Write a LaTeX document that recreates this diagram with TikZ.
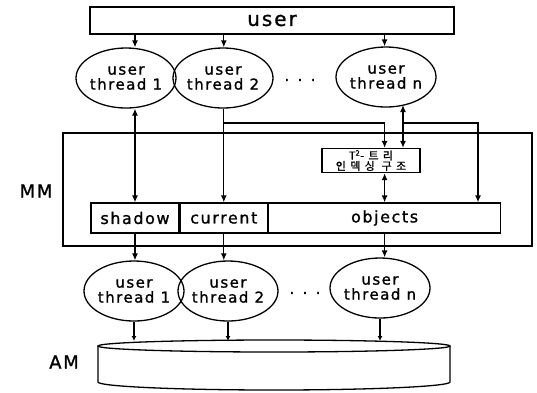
\documentclass[tikz,border=0pt]{standalone}
\usepackage{fontspec}
\setmainfont{DejaVu Sans}[LetterSpace=10, FakeBold=1.2]
\newfontfamily\krfont{Noto Sans CJK KR}[LetterSpace=40, FakeBold=1.2]
\usetikzlibrary{shapes.geometric, arrows.meta}

\begin{document}
\begin{tikzpicture}[x=1bp, y=-1bp, line width=1.3bp,
	>={Latex[length=7bp, width=6bp]},
	box/.style={draw, inner sep=0pt, minimum height=30bp, font=\fontsize{16}{16}\selectfont},
	tlabel/.style={align=center, inner sep=0pt, font=\fontsize{15}{15}\selectfont},
	uthread/.style={ellipse, draw, inner sep=0pt, minimum width=100bp, minimum height=60bp,
		label={[tlabel]center:user\\thread #1}},
	side/.style={font=\fontsize{18}{18}\selectfont}]
	\useasboundingbox (0,0) rectangle (537,392);

	% user and the user threads
	\node[draw, minimum width=364bp, minimum height=27bp, font=\fontsize{20}{20}\selectfont] (user) at (272,20.5) {user};
	\node[uthread=1] (ut1) at (126,78) {};
	\node[uthread=2] (ut2) at (223,78) {};
	\node[uthread=n] (utn) at (386,77) {};
	\node[tlabel] (dots1) at (300,80) {. . .};

	% MM
	\node[draw, minimum width=469bp, minimum height=113bp] (mm) at (297.5,189.5) {};
	\node[side] (mml) at (36,191) {MM};
	\node[box, minimum width=88bp] (shadow) at (135,218) {shadow};
	\node[box, minimum width=87bp, anchor=west] (current) at (shadow.east) {current};
	\node[box, minimum width=232bp, anchor=west] (objects) at (current.east) {objects};
	\node[draw, minimum width=98bp, minimum height=24bp, inner sep=0pt, align=center,
		font=\krfont\fontsize{11}{10.5}\selectfont] (t2) at (371,160.5) {T\textsuperscript{2}-트리\\인덱싱 구조};

	\coordinate (tap) at (0,123);
	\coordinate (col) at (403,105);
	\coordinate (rim) at (478,123);

	\draw[->] (user.south -| shadow) -- (ut1.north -| shadow);
	\draw[->] (user.south -| current) -- (ut2.north -| current);
	\draw[->] (user.south -| objects) -- (utn.north -| objects);

	\draw[<->] (ut1.south -| shadow) -- (shadow.north);
	\draw[->] (ut2.south -| current) -- (current.north);
	\draw[->] (current |- tap) -| (t2.north -| objects);
	\draw[<->] (col) -- (col |- t2.north);
	\draw[->] (col |- tap) -- (rim) -- (rim |- objects.north);
	\draw[<->] (t2.south -| objects) -- (objects.north);

	% threads below MM
	\node[uthread=1] (lt1) at (134,291) {};
	\node[uthread=2] (lt2) at (228,291) {};
	\node[uthread=n] (ltn) at (380,288) {};
	\node[tlabel] (dots2) at (305,293) {. . .};

	\draw[->] (shadow.south) -- (lt1.north -| shadow);
	\draw[->] (current.south) -- (lt2.north -| current);
	\draw[->] (objects.south) -- (ltn.north -| objects);

	% AM
	\node[side] (aml) at (64,362) {AM};
	\coordinate (am) at (274,341);
	\draw (98,346) -- (98,382) arc[start angle=180, end angle=0, x radius=176, y radius=8] -- (450,346);
	\draw (274,346) ellipse [x radius=176, y radius=6];

	\draw[-{Latex[length=5bp, width=5bp]}] (lt1.south) -- (lt1.south |- am);
	\draw[-{Latex[length=5bp, width=5bp]}] (lt2.south) -- (lt2.south |- am);
	\draw[-{Latex[length=5bp, width=5bp]}] (ltn.south) -- (ltn.south |- am);
\end{tikzpicture}
\end{document}
